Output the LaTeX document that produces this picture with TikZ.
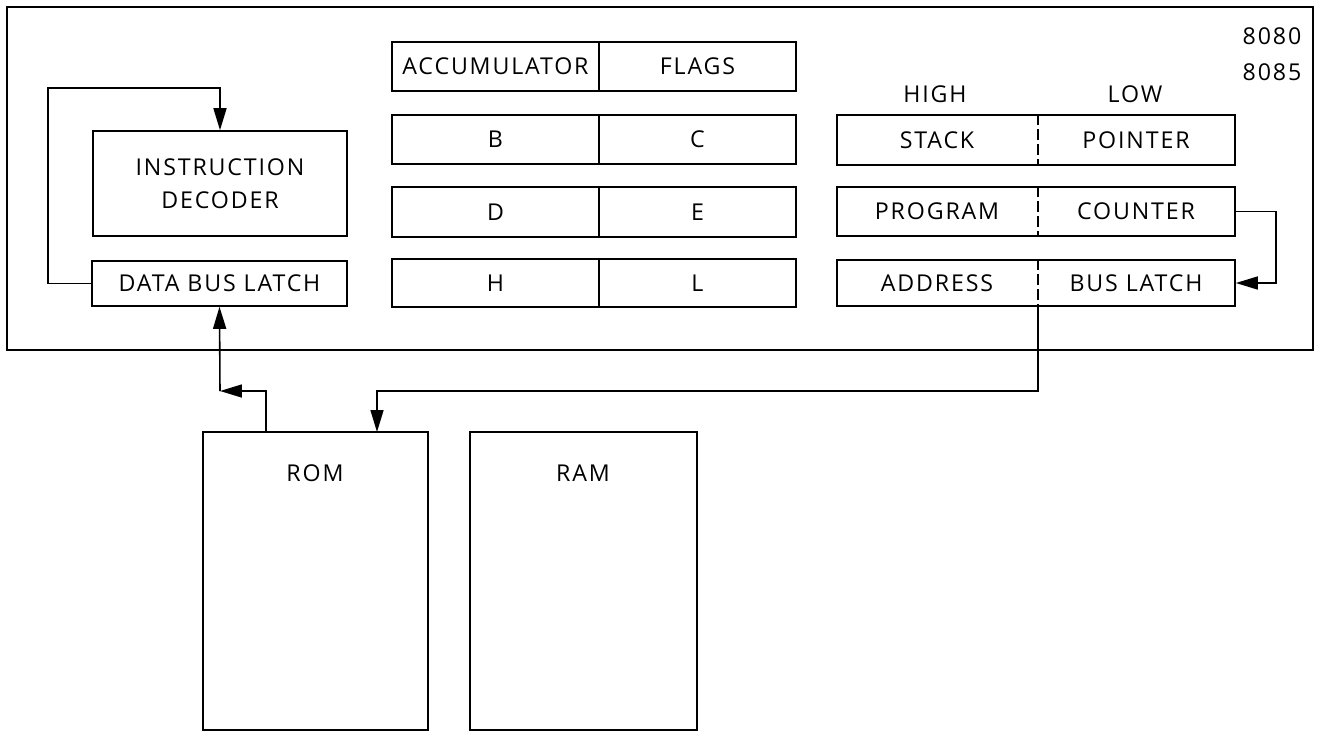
\documentclass[tikz,border=0pt]{standalone}
\usepackage{fontspec}
\setmainfont{Open Sans}[LetterSpace=8]
\usetikzlibrary{arrows.meta,fit}
\newcommand\lblfont{\fontsize{13.2}{19}\selectfont}
\begin{document}
\begin{tikzpicture}[x=0.02cm,y=-0.02cm, line width=0.9pt,
  box/.style={draw, rectangle, inner sep=0pt},
  txt/.style={rectangle, inner sep=0pt, font=\lblfont, align=center},
  lb/.style={label={[txt]center:#1}},
  arr/.style={-{Triangle[length=0.44cm,width=0.26cm]}},
  divider/.style={dashed, dash pattern=on 6pt off 2.5pt}]
\useasboundingbox (0,0) rectangle (1319,731);
% outer CPU box
\node[box, fit={(7,7) (1313,350)}] (cpu) {};
\node[txt] (n8080) at (1272,36) {8080};
\node[txt] (n8085) at (1272,72) {8085};
% left column
\node[box, fit={(93,131) (347,236)}, lb={INSTRUCTION\\DECODER}] (dec) {};
\node[box, fit={(92,261) (347,306)}, lb={DATA BUS LATCH}] (dbl) {};
% register file
\node[box, fit={(392,42) (599,91)}, lb=ACCUMULATOR] (acc) {};
\node[box, fit={(599,42) (796,91)}, lb=FLAGS] (flags) {};
\node[box, fit={(392,115) (599,164)}, lb=B] (regb) {};
\node[box, fit={(599,115) (796,164)}, lb=C] (regc) {};
\node[box, fit={(392,187) (599,237)}, lb=D] (regd) {};
\node[box, fit={(599,187) (796,237)}, lb=E] (rege) {};
\node[box, fit={(392,259) (599,307)}, lb=H] (regh) {};
\node[box, fit={(599,259) (796,307)}, lb=L] (regl) {};
% right column
\node[txt] (high) at (935,94) {HIGH};
\node[txt] (low) at (1135,94) {LOW};
\node[box, fit={(837,115) (1235,165)}] (sp) {};
\node[txt, fit={(837,115) (1037,165)}, lb=STACK] (spl) {};
\node[txt, fit={(1037,115) (1235,165)}, lb=POINTER] (spr) {};
\draw[divider] (spl.north east) -- (spl.south east);
\node[box, fit={(837,187) (1235,236)}] (pc) {};
\node[txt, fit={(837,187) (1037,236)}, lb=PROGRAM] (pcl) {};
\node[txt, fit={(1037,187) (1235,236)}, lb=COUNTER] (pcr) {};
\draw[divider] (pcl.north east) -- (pcl.south east);
\node[box, fit={(837,260) (1235,306)}] (abl) {};
\node[txt, fit={(837,260) (1037,306)}, lb=ADDRESS] (abll) {};
\node[txt, fit={(1037,260) (1235,306)}, lb={BUS LATCH}] (ablr) {};
\draw[divider] (abll.north east) -- (abll.south east);
% memories
\node[box, fit={(203,432) (428,730)}] (rom) {};
\node[txt] (romlbl) at (315,473) {ROM};
\node[box, fit={(470,432) (697,730)}] (ram) {};
\node[txt] (ramlbl) at (583,473) {RAM};
% connectors
\coordinate (loop) at (48,88);
\draw[arr] (dbl.west) -| (loop) -| (dec.north);
\draw[arr] (pc.east) -- ++(40,0) |- (abl.east);
\coordinate (dbc) at (220,391);
\coordinate (romd) at (266,432);
\draw[arr] (dbc) -- (dbl.south);
\draw[arr] (romd) |- (dbc);
\coordinate (adc) at (377,391);
\coordinate (roma) at (377,432);
\draw[arr] (abll.south east) |- (adc) -- (roma);
\end{tikzpicture}
\end{document}
